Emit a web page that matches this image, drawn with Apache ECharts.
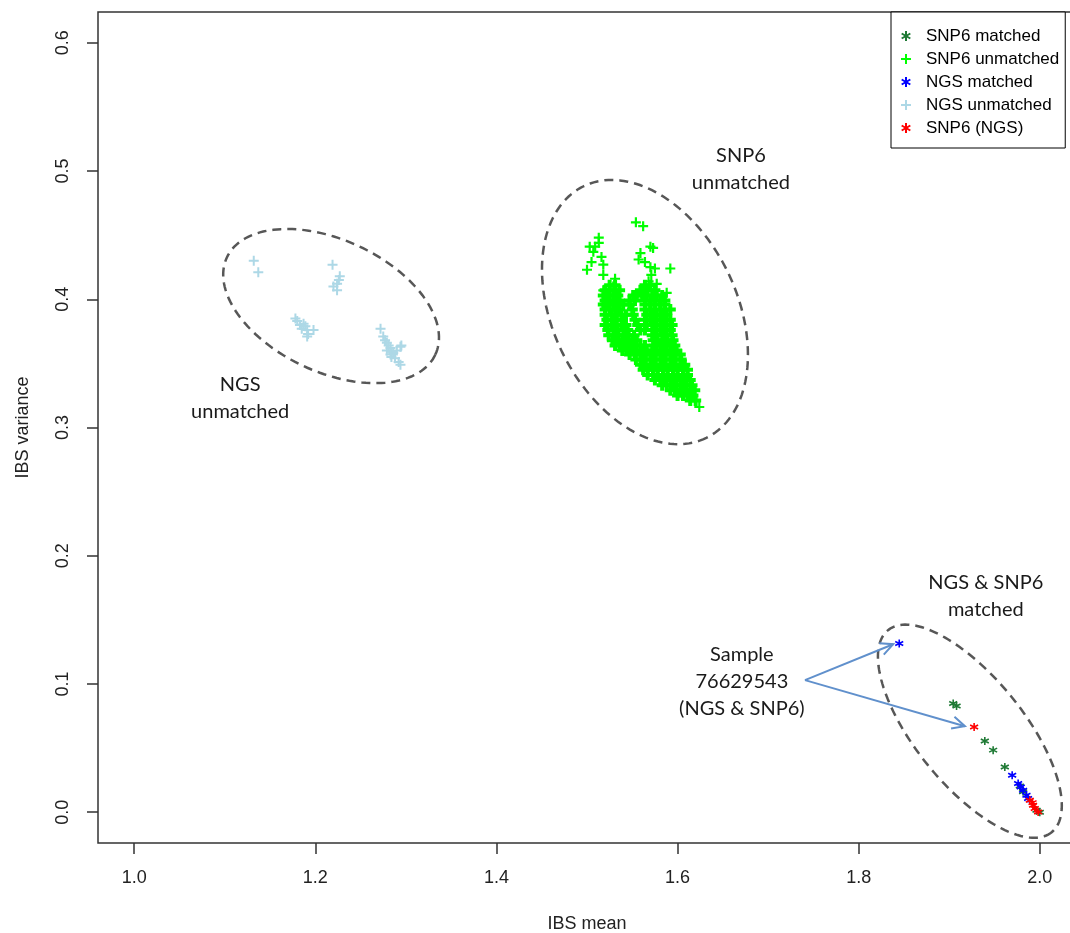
<!DOCTYPE html>
<html lang="en">
<head>
    <meta charset="UTF-8">
    <title>IBS mean / IBS variance</title>
    <script src="https://cdn.jsdelivr.net/npm/echarts@6.0.0/dist/echarts.min.js"></script>
</head>
<style>
html,body{margin:0;padding:0;background-color:#fff}
#chartBox{width:1070px;height:933px}
</style>
<body>
    <div id="chartBox"></div>
</body>
<script>
// tick labels
const xTicks = [1.0, 1.2, 1.4, 1.6, 1.8, 2.0];
const yTicks = [0.0, 0.1, 0.2, 0.3, 0.4, 0.5, 0.6];

// [IBS mean, IBS variance]
const snp6Matched = [
    [1.9044, 0.0848], [1.9081, 0.0829], [1.9393, 0.0556], [1.9485, 0.0484], [1.9614, 0.0353],
    [1.9780, 0.0205], [1.9816, 0.0160], [1.9964, 0.0016], [2.0000, 0.0000]
];
const ngsMatched = [
    [1.8448, 0.1316], [1.9695, 0.0289], [1.9761, 0.0224], [1.9790, 0.0197], [1.9816, 0.0172],
    [1.9853, 0.0133], [1.9871, 0.0107]
];
const snp6Ngs = [
    [1.9275, 0.0665], [1.9890, 0.0094], [1.9920, 0.0075], [1.9926, 0.0055], [1.9945, 0.0029], [1.9982, 0.0002]
];
const ngsUnmatched = [
    [1.132, 0.430], [1.137, 0.421], [1.219, 0.427], [1.227, 0.418], [1.226, 0.415], [1.224, 0.412],
    [1.220, 0.410], [1.224, 0.407],
    [1.178, 0.385], [1.180, 0.383], [1.183, 0.380], [1.187, 0.381], [1.189, 0.379], [1.191, 0.376],
    [1.192, 0.373], [1.198, 0.376], [1.191, 0.371], [1.185, 0.377],
    [1.272, 0.377], [1.275, 0.371], [1.277, 0.368], [1.279, 0.366], [1.281, 0.364], [1.283, 0.362],
    [1.284, 0.359], [1.286, 0.358], [1.290, 0.360], [1.294, 0.363], [1.295, 0.364], [1.284, 0.355],
    [1.288, 0.354], [1.292, 0.351], [1.294, 0.349], [1.279, 0.360], [1.283, 0.357]
];
// scattered SNP6 unmatched points around the dense block
const snp6UnmatchedLoose = [
    [1.554, 0.460], [1.562, 0.457],
    [1.513, 0.448], [1.509, 0.441], [1.503, 0.441], [1.507, 0.437], [1.505, 0.429], [1.500, 0.423],
    [1.516, 0.433], [1.518, 0.427], [1.518, 0.419], [1.513, 0.444],
    [1.570, 0.441], [1.573, 0.440], [1.559, 0.436], [1.557, 0.431], [1.564, 0.429], [1.570, 0.425],
    [1.575, 0.424], [1.592, 0.424], [1.571, 0.419], [1.568, 0.414], [1.577, 0.412], [1.588, 0.405],
    [1.564, 0.409], [1.560, 0.405], [1.531, 0.416], [1.529, 0.410], [1.518, 0.407],
    [1.624, 0.316]
];
// dense SNP6 unmatched block, read row by row: [IBS variance, [IBS mean, ...]]
const snp6UnmatchedRows = [
    [0.411, [1.525, 1.531, 1.564, 1.570]],
    [0.407, [1.520, 1.525, 1.531, 1.536, 1.559, 1.567, 1.575]],
    [0.403, [1.518, 1.523, 1.529, 1.534, 1.551, 1.555, 1.561, 1.566, 1.572, 1.577, 1.583]],
    [0.399, [1.520, 1.525, 1.531, 1.536, 1.547, 1.553, 1.564, 1.570, 1.575, 1.581, 1.586]],
    [0.396, [1.518, 1.523, 1.529, 1.534, 1.540, 1.547, 1.564, 1.570, 1.575, 1.581, 1.586]],
    [0.392, [1.520, 1.525, 1.531, 1.536, 1.550, 1.564, 1.570, 1.575, 1.581, 1.586, 1.592]],
    [0.388, [1.520, 1.527, 1.532, 1.538, 1.543, 1.551, 1.566, 1.572, 1.577, 1.583, 1.588]],
    [0.384, [1.522, 1.528, 1.533, 1.539, 1.553, 1.564, 1.570, 1.575, 1.581, 1.586, 1.592]],
    [0.380, [1.520, 1.527, 1.532, 1.538, 1.543, 1.556, 1.566, 1.572, 1.577, 1.583, 1.588, 1.594]],
    [0.376, [1.523, 1.529, 1.534, 1.540, 1.545, 1.559, 1.564, 1.575, 1.581, 1.586, 1.592]],
    [0.372, [1.524, 1.530, 1.535, 1.541, 1.546, 1.552, 1.572, 1.577, 1.583, 1.588, 1.594]],
    [0.368, [1.528, 1.533, 1.539, 1.544, 1.550, 1.555, 1.573, 1.578, 1.584, 1.589, 1.595]],
    [0.364, [1.531, 1.536, 1.542, 1.547, 1.553, 1.559, 1.564, 1.575, 1.581, 1.586, 1.592, 1.597]],
    [0.360, [1.539, 1.544, 1.550, 1.555, 1.561, 1.566, 1.572, 1.577, 1.583, 1.588, 1.594, 1.599]],
    [0.357, [1.547, 1.553, 1.559, 1.564, 1.570, 1.575, 1.581, 1.586, 1.592, 1.597, 1.603]],
    [0.353, [1.554, 1.560, 1.565, 1.571, 1.576, 1.582, 1.587, 1.593, 1.598, 1.604]],
    [0.349, [1.559, 1.564, 1.570, 1.575, 1.581, 1.586, 1.592, 1.597, 1.603, 1.608]],
    [0.345, [1.562, 1.567, 1.573, 1.578, 1.584, 1.589, 1.595, 1.600, 1.606, 1.611]],
    [0.341, [1.567, 1.573, 1.578, 1.584, 1.589, 1.595, 1.600, 1.606, 1.611]],
    [0.337, [1.575, 1.581, 1.586, 1.592, 1.597, 1.603, 1.608, 1.614]],
    [0.333, [1.583, 1.588, 1.594, 1.599, 1.605, 1.610, 1.616]],
    [0.329, [1.592, 1.597, 1.603, 1.608, 1.614, 1.619]],
    [0.325, [1.600, 1.606, 1.611, 1.617]],
    [0.321, [1.614, 1.620]]
];

// annotation anchors (data units)
const groupCentres = [[1.2174, 0.3947], [1.5640, 0.3900], [1.9228, 0.0632]];
const groupNotes = [
    {at: [1.670, 0.5016], text: 'SNP6\nunmatched'},
    {at: [1.117, 0.3230], text: 'NGS\nunmatched'},
    {at: [1.9404, 0.1685], text: 'NGS & SNP6\nmatched'},
    {at: [1.671, 0.1020], text: 'Sample\n76629543\n(NGS & SNP6)'}
];
const sampleArrows = [
    [1.7407, 0.103, 1.8381, 0.131],
    [1.7407, 0.103, 1.9173, 0.0671]
];
// ellipse radii (px) and rotation (deg), same order as groupCentres
const ellipseShapes = [{a: 115, b: 66, rot: 25}, {a: 140, b: 92, rot: 64}, {a: 130, b: 54, rot: 51}];

const PLUS = 'path://M5,0L5,10M0,5L10,5';
const STAR = 'path://M5,0L5,10M0.67,2.5L9.33,7.5M0.67,7.5L9.33,2.5';
const axisFont = '"Liberation Sans Narrow", "Liberation Sans", Arial, sans-serif';

function flattenRows(rows) {
    let out = [];
    rows.forEach(r => r[1].forEach(x => out.push([x, r[0]])));
    return out;
}

function markSeries(name, data, symbol, size, color, width) {
    return {
        type: 'scatter',
        name: name,
        data: data,
        symbol: symbol,
        symbolSize: size,
        itemStyle: {color: color, borderColor: color, borderWidth: width, opacity: 1},
        emphasis: {disabled: true}
    };
}

function renderEllipse(params, api) {
    let s = ellipseShapes[params.dataIndex];
    let c = api.coord([api.value(0), api.value(1)]);
    let r = s.rot * Math.PI / 180;
    let pts = [];
    for (let i = 0; i < 160; i++) {
        let t = i / 160 * Math.PI * 2;
        let ex = s.a * Math.cos(t), ey = s.b * Math.sin(t);
        pts.push([c[0] + ex * Math.cos(r) - ey * Math.sin(r), c[1] + ex * Math.sin(r) + ey * Math.cos(r)]);
    }
    return {
        type: 'polygon',
        shape: {points: pts},
        style: {fill: 'none', stroke: '#575757', lineWidth: 2.5, lineDash: [9, 6]}
    };
}

function renderArrow(params, api) {
    let p0 = api.coord([api.value(0), api.value(1)]);
    let p1 = api.coord([api.value(2), api.value(3)]);
    let ang = Math.atan2(p1[1] - p0[1], p1[0] - p0[0]);
    let L = 14, h = 0.45;
    let a1 = [p1[0] - L * Math.cos(ang - h), p1[1] - L * Math.sin(ang - h)];
    let a2 = [p1[0] - L * Math.cos(ang + h), p1[1] - L * Math.sin(ang + h)];
    let st = {stroke: '#6090cc', lineWidth: 2, fill: 'none'};
    return {
        type: 'group',
        children: [
            {type: 'line', shape: {x1: p0[0], y1: p0[1], x2: p1[0], y2: p1[1]}, style: st},
            {type: 'polyline', shape: {points: [a1, p1, a2]}, style: st}
        ]
    };
}

function renderNote(params, api) {
    let p = api.coord([api.value(0), api.value(1)]);
    return {
        type: 'text',
        x: p[0],
        y: p[1],
        style: {
            text: groupNotes[params.dataIndex].text,
            font: '20px Lato, "Open Sans", sans-serif',
            fill: '#1a1a1a',
            align: 'center',
            verticalAlign: 'middle',
            lineHeight: 27
        }
    };
}

let chartObj = echarts.init(document.getElementById('chartBox'));
let option = {
    animation: false,
    backgroundColor: '#fff',
    grid: {
        left: 98, top: 12, width: 978, height: 831,
        show: true, borderColor: '#333', borderWidth: 1.5, backgroundColor: 'transparent',
        outerBoundsMode: 'none'
    },
    xAxis: {
        type: 'value', min: 0.96, max: 2.04,
        name: 'IBS mean', nameLocation: 'middle', nameGap: 72,
        nameTextStyle: {fontFamily: axisFont, fontSize: 18, color: '#222'},
        axisLine: {show: false, onZero: false},
        axisTick: {show: true, inside: false, length: 11, customValues: xTicks, lineStyle: {color: '#333', width: 1.5}},
        axisLabel: {customValues: xTicks, formatter: v => v.toFixed(1), margin: 26, fontFamily: axisFont, fontSize: 18, color: '#222'},
        splitLine: {show: false}
    },
    yAxis: {
        type: 'value', min: -0.024, max: 0.624,
        name: 'IBS variance', nameLocation: 'middle', nameGap: 66,
        nameTextStyle: {fontFamily: axisFont, fontSize: 18, color: '#222'},
        axisLine: {show: false, onZero: false},
        axisTick: {show: true, inside: false, length: 11, customValues: yTicks, lineStyle: {color: '#333', width: 1.5}},
        axisLabel: {customValues: yTicks, formatter: v => v.toFixed(1), rotate: 90, margin: 26, fontFamily: axisFont, fontSize: 18, color: '#222'},
        splitLine: {show: false}
    },
    legend: {
        orient: 'vertical', left: 891, top: 12,
        padding: [15, 6, 11, 9],
        itemWidth: 10, itemHeight: 10, itemGap: 5,
        backgroundColor: '#fff', borderColor: '#000', borderWidth: 1, borderRadius: 0,
        textStyle: {fontFamily: '"Liberation Sans", Arial, sans-serif', fontSize: 17, color: '#000', lineHeight: 18, padding: [0, 0, 0, 10]},
        data: ['SNP6 matched', 'SNP6 unmatched', 'NGS matched', 'NGS unmatched', 'SNP6 (NGS)']
    },
    series: [
        markSeries('SNP6 unmatched', snp6UnmatchedLoose, PLUS, 10, '#00ff00', 2.2),
        // dense block: same series name, heavier strokes so the pile reads as solid
        markSeries('SNP6 unmatched', flattenRows(snp6UnmatchedRows), PLUS, 11, '#00ff00', 4),
        markSeries('NGS unmatched', ngsUnmatched, PLUS, 10, '#add8e6', 2),
        markSeries('SNP6 matched', snp6Matched, STAR, 8, '#1f7a35', 1.6),
        markSeries('NGS matched', ngsMatched, STAR, 8, '#0000ff', 1.6),
        markSeries('SNP6 (NGS)', snp6Ngs, STAR, 8, '#ff0000', 1.6),
        {type: 'custom', name: 'groups', data: groupCentres, renderItem: renderEllipse, silent: true, z: 5},
        {type: 'custom', name: 'arrows', data: sampleArrows, encode: {x: [0, 2], y: [1, 3]}, renderItem: renderArrow, silent: true, z: 5},
        {type: 'custom', name: 'notes', data: groupNotes.map(n => n.at), renderItem: renderNote, silent: true, z: 5}
    ]
};
chartObj.setOption(option);
</script>
</html>
